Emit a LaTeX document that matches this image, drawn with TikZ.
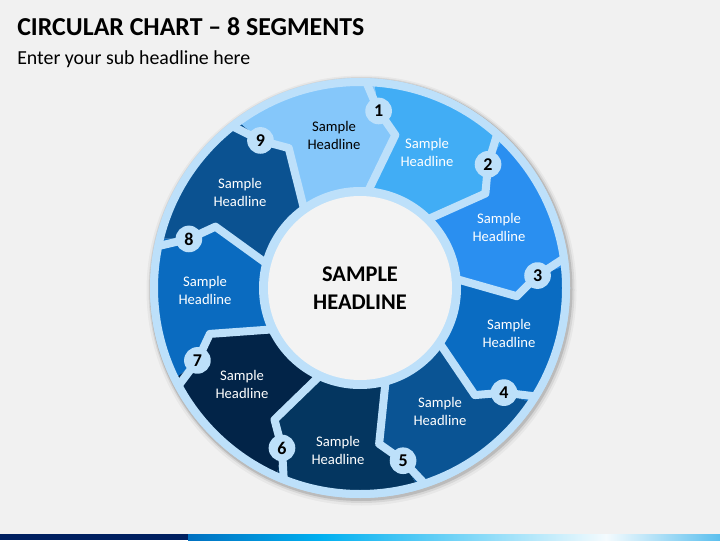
\documentclass[tikz,border=0pt]{standalone}
\usepackage{fontspec}
\setmainfont{Carlito}
\definecolor{bgc}{HTML}{F1F1F1}
\definecolor{gapc}{HTML}{BDE0FA}
\definecolor{centerc}{HTML}{F3F3F3}
\definecolor{segA}{HTML}{41ADF5}
\definecolor{segB}{HTML}{2A8FF0}
\definecolor{segC}{HTML}{0A6CC2}
\definecolor{segD}{HTML}{0A5494}
\definecolor{segE}{HTML}{043660}
\definecolor{segF}{HTML}{022448}
\definecolor{segG}{HTML}{0A6BC0}
\definecolor{segH}{HTML}{0B5291}
\definecolor{segI}{HTML}{85C7FA}
\definecolor{navy}{HTML}{002060}
\definecolor{barA}{HTML}{0070C0}
\definecolor{barB}{HTML}{00B0F0}
\definecolor{barC}{HTML}{F4FBFE}
\definecolor{barD}{HTML}{5BBFEE}
\tikzset{
  lbl/.style={align=center, text=white, inner sep=0pt, font=\fontsize{11}{13.5}\selectfont},
  numc/.style={circle, fill=gapc, inner sep=0pt, minimum size=20pt, font=\bfseries\fontsize{13.5}{14}\selectfont},
  gapline/.style={draw=gapc, line width=6pt, line join=round}
}
\begin{document}
\begin{tikzpicture}[x=0.75pt,y=0.75pt]
\useasboundingbox (0,0) rectangle (720,540);
\fill[bgc] (0,0) rectangle (720,540);
% title
\node[anchor=base west, inner sep=0pt, font=\bfseries\fontsize{19.4}{21}\selectfont] (title) at (17,504) {CIRCULAR CHART – 8 SEGMENTS};
\node[anchor=base west, inner sep=0pt, font=\fontsize{14.9}{16}\selectfont] (sub) at (17,475) {Enter your sub headline here};
% bottom bar
\fill[navy] (0,0) rectangle (188,6);
\shade[left color=barA, right color=barB] (188,0) rectangle (321.5,6);
\shade[left color=barB, right color=barC] (321,0) rectangle (606.5,6);
\shade[left color=barC, right color=barD] (606,0) rectangle (720,6);
\begin{scope}[shift={(360,252)}]
  % shadow
  \fill[black, opacity=0.04] (1.5,-2.5) circle (215);
  \fill[black, opacity=0.07] (1.5,-2) circle (213);
  \fill[black, opacity=0.12] (1,-1.5) circle (211.5);
  \fill[gapc] (0,0) circle (210);
  % segments
  \begin{scope}
    \clip (0,0) circle (206);
    \foreach \k/\col in {1/segA,2/segB,3/segC,4/segD,5/segE,6/segF,7/segG,8/segH,9/segI}{
      \pgfmathsetmacro\a{84-40*(\k-1)}
      \pgfmathsetmacro\b{\a-40}
      \fill[\col] (0,0) -- ({\a+3}:95) -- ({\a-7}:157) -- (\a:178) -- ({\a+4}:240)
        -- ({\b+4}:240) -- (\b:178) -- ({\b-7}:157) -- ({\b+3}:95) -- cycle;
    }
  \end{scope}
  % dividers
  \foreach \k in {1,...,9}{
    \pgfmathsetmacro\a{84-40*(\k-1)}
    \draw[gapline] ({\a+3}:90) -- ({\a-7}:157) -- (\a:178) -- ({\a+4}:204);
  }
  \draw[gapc, line width=6pt] (0,0) circle (206);
  % numbers
  \foreach \k in {1,...,9}{
    \pgfmathsetmacro\a{84-40*(\k-1)}
    \node[numc] (n\k) at (\a:178) {\k};
  }
  % center
  \node[circle, fill=gapc, minimum size=151.5pt, inner sep=0pt] (ring) at (0,0) {};
  \node[circle, fill=centerc, minimum size=138pt, inner sep=0pt, align=center,
        font=\bfseries\fontsize{16.8}{21}\selectfont] (center) at (0,0) {SAMPLE\\HEADLINE};
  % labels
  \node[lbl, text=black] (l9) at (-26,153) {Sample\\Headline};
  \node[lbl] (l1) at (67,136) {Sample\\Headline};
  \node[lbl] (l2) at (139,61) {Sample\\Headline};
  \node[lbl] (l3) at (149,-45) {Sample\\Headline};
  \node[lbl] (l4) at (80,-123) {Sample\\Headline};
  \node[lbl] (l5) at (-22,-162) {Sample\\Headline};
  \node[lbl] (l6) at (-118,-96) {Sample\\Headline};
  \node[lbl] (l7) at (-155,-2) {Sample\\Headline};
  \node[lbl] (l8) at (-120,96) {Sample\\Headline};
\end{scope}
\end{tikzpicture}
\end{document}
